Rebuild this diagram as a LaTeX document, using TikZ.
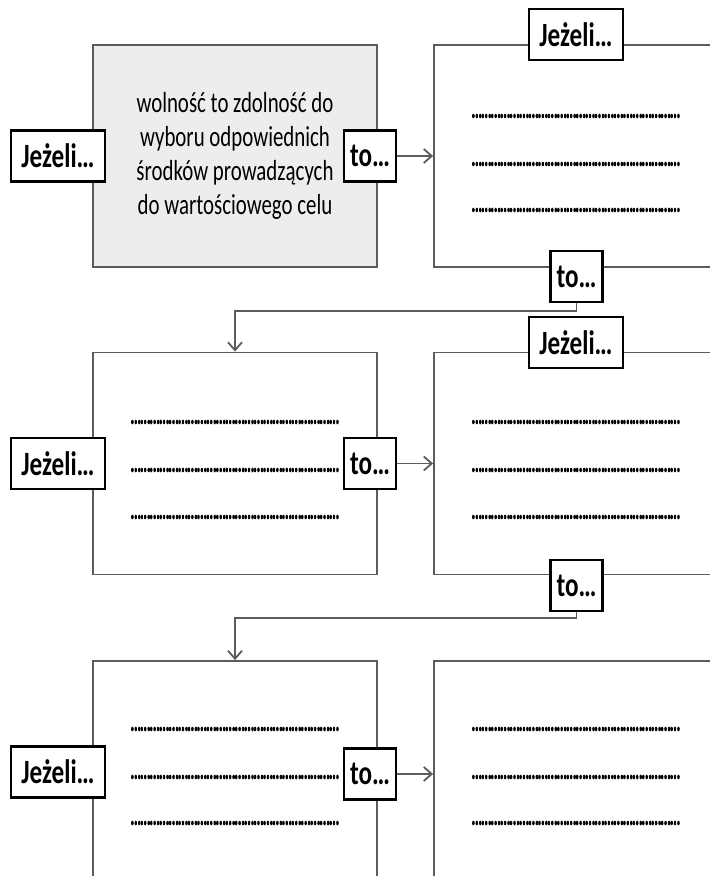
\documentclass[tikz,border=0pt]{standalone}
\usepackage{fontspec}
\setmainfont{Carlito}[FakeStretch=0.74]
\newfontfamily\bodyfont{Carlito}[FakeStretch=0.72]
\newfontfamily\dotfont{Carlito}[FakeStretch=0.45, FakeBold=2.5]
\usetikzlibrary{arrows.meta}
\definecolor{frameline}{HTML}{5C5C5C}
\definecolor{framefill}{HTML}{EDEDED}
\newcommand{\dotrow}{…………………………………………………………}

\begin{document}
\begin{tikzpicture}[x=0.5pt, y=-0.5pt,
    bigbox/.style={rectangle, draw=frameline, line width=0.9pt, minimum width=142pt, minimum height=111pt, inner sep=0pt},
    openbox/.style={bigbox, minimum width=200pt},
    tagbox/.style={rectangle, draw=black, line width=1.3pt, fill=white, minimum height=25.5pt, inner sep=0pt,
        font=\fontsize{17}{19}\selectfont\bfseries},
    ifbox/.style={tagbox, minimum width=47pt},
    thenbox/.style={tagbox, minimum width=26pt},
    dots/.style={inner sep=0pt, font=\dotfont\fontsize{15.2}{17}\selectfont},
    link/.style={draw=frameline, line width=0.9pt, -{Straight Barb[length=4pt, width=7pt]}}]
    \clip (0,0) rectangle (710,876);

    % Row 1
    \node[bigbox, fill=framefill, align=center, font=\bodyfont\fontsize{14.5}{17}\selectfont] (cond1) at (235,156)
        {wolność to zdolność do\\wyboru odpowiednich\\środków prowadzących\\do wartościowego celu};
    \node[openbox] (res1) at (634,156) {};
    \node[ifbox] (if1) at (58,156) {Jeżeli…};
    \node[thenbox] (then1) at (370,156) {to…};
    \node[ifbox] (ifR1) at (576,34.5) {Jeżeli…};
    \node[thenbox] (thenR1) at (576.5,276.5) {to…};
    \foreach \dy [count=\k] in {116,164,210}
        \node[dots] (dR1-\k) at (576,\dy) {\dotrow};
    \draw[link] (then1) -- (res1.west);

    % Row 2
    \node[bigbox] (cond2) at (235,463.5) {};
    \node[openbox] (res2) at (634,463.5) {};
    \node[ifbox] (if2) at (58,463.5) {Jeżeli…};
    \node[thenbox] (then2) at (370,463.5) {to…};
    \node[ifbox] (ifR2) at (576,342.5) {Jeżeli…};
    \node[thenbox] (thenR2) at (576.5,585.5) {to…};
    \foreach \dy [count=\k] in {422,470,517} {
        \node[dots] (dL2-\k) at (235,\dy) {\dotrow};
        \node[dots] (dR2-\k) at (576,\dy) {\dotrow};
    }
    \draw[link] (then2) -- (res2.west);
    \draw[link] (thenR1.south) -- ++(0,8) -| (cond2.north);

    % Row 3
    \node[bigbox] (cond3) at (235,772) {};
    \node[openbox] (res3) at (634,772) {};
    \node[ifbox] (if3) at (58,772) {Jeżeli…};
    \node[thenbox] (then3) at (370,774) {to…};
    \foreach \dy [count=\k] in {729,777,823} {
        \node[dots] (dL3-\k) at (235,\dy) {\dotrow};
        \node[dots] (dR3-\k) at (576,\dy) {\dotrow};
    }
    \draw[link] (then3) -- (res3.west |- then3);
    \draw[link] (thenR2.south) -- ++(0,6) -| (cond3.north);
\end{tikzpicture}
\end{document}
